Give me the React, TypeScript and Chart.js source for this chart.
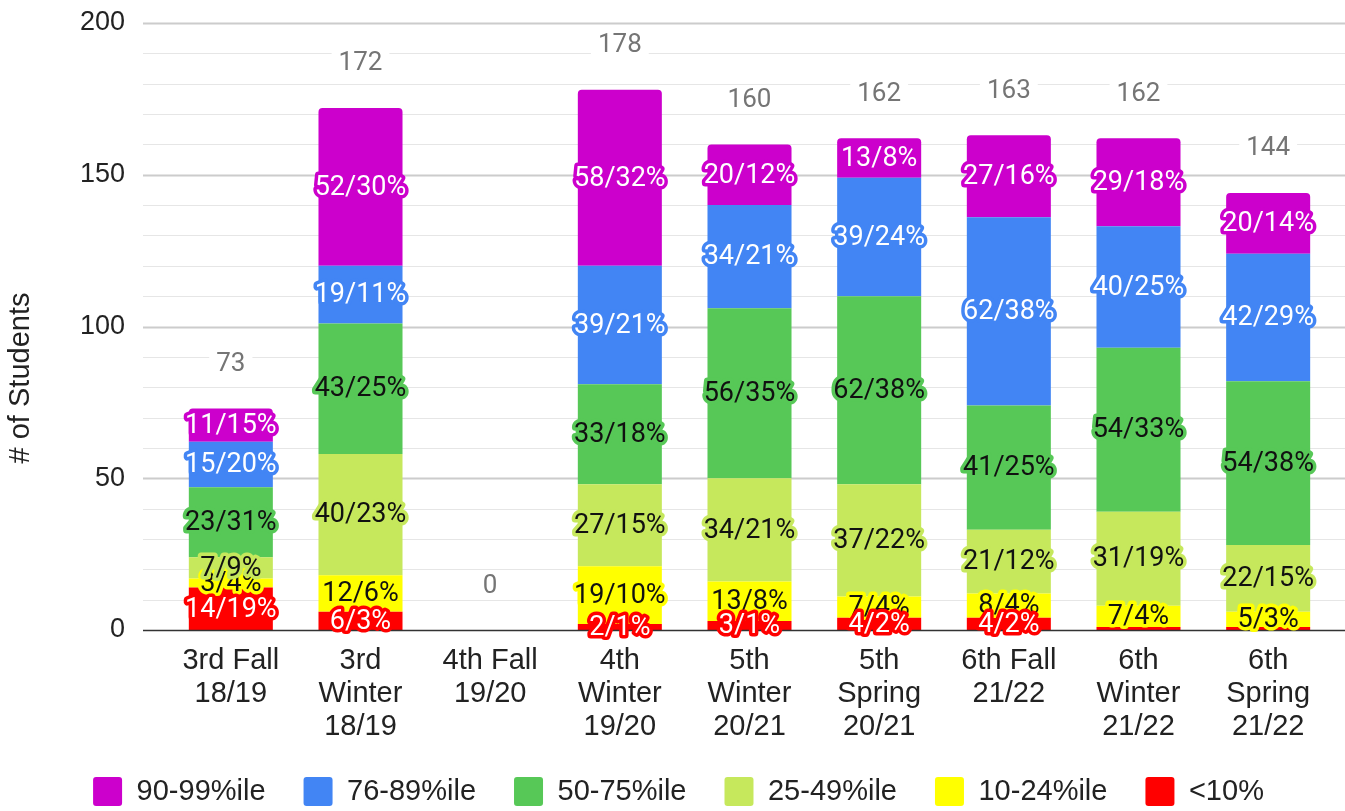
import React, { useEffect, useRef } from "react";
import { Chart, registerables } from "chart.js";

Chart.register(...registerables);

// ---------- data ----------
const CATEGORIES: string[][] = [
  ["3rd Fall", "18/19"],
  ["3rd", "Winter", "18/19"],
  ["4th Fall", "19/20"],
  ["4th", "Winter", "19/20"],
  ["5th", "Winter", "20/21"],
  ["5th", "Spring", "20/21"],
  ["6th Fall", "21/22"],
  ["6th", "Winter", "21/22"],
  ["6th", "Spring", "21/22"],
];

const SERIES_NAMES = ["<10%", "10-24%ile", "25-49%ile", "50-75%ile", "76-89%ile", "90-99%ile"];

const BELOW_10 = [14, 6, 0, 2, 3, 4, 4, 1, 1];
const P10_24 = [3, 12, 0, 19, 13, 7, 8, 7, 5];
const P25_49 = [7, 40, 0, 27, 34, 37, 21, 31, 22];
const P50_75 = [23, 43, 0, 33, 56, 62, 41, 54, 54];
const P76_89 = [15, 19, 0, 39, 34, 39, 62, 40, 42];
const P90_99 = [11, 52, 0, 58, 20, 13, 27, 29, 20];

const PCT_BELOW_10 = [19, 3, 0, 1, 1, 2, 2, 0, 0];
const PCT_10_24 = [4, 6, 0, 10, 8, 4, 4, 4, 3];
const PCT_25_49 = [9, 23, 0, 15, 21, 22, 12, 19, 15];
const PCT_50_75 = [31, 25, 0, 18, 35, 38, 25, 33, 38];
const PCT_76_89 = [20, 11, 0, 21, 21, 24, 38, 25, 29];
const PCT_90_99 = [15, 30, 0, 32, 12, 8, 16, 18, 14];

const TOTALS = [73, 172, 0, 178, 160, 162, 163, 162, 144];

const Y_TITLE = "# of Students";
const Y_MIN = 0;
const Y_MAX = 200;
const Y_MAJOR_STEP = 50;
const Y_MINOR_STEP = 10;

// ---------- styles ----------
const COUNTS = [BELOW_10, P10_24, P25_49, P50_75, P76_89, P90_99];
const PCTS = [PCT_BELOW_10, PCT_10_24, PCT_25_49, PCT_50_75, PCT_76_89, PCT_90_99];
const COLORS = ["#ff0000", "#ffff00", "#c6e85c", "#57c857", "#4285f4", "#cc00cc"];
const TEXT_COLORS = ["#ffffff", "#111111", "#111111", "#111111", "#ffffff", "#ffffff"];
const LABEL_ORDER = [1, 0, 2, 3, 4, 5];
const AXIS_FONT = "Arial, 'Liberation Sans', sans-serif";
const LABEL_FONT = "Roboto, 'Noto Sans', sans-serif";

// target plot area (pixels)
const AREA = { top: 23, bottom: 630, left: 166, right: 1333 };

const overlayPlugin = {
  id: "overlay",
  beforeDatasetsDraw(chart: any) {
    const { ctx, chartArea, scales } = chart;
    const y = scales.y;
    const left = chartArea.left - 23;
    const right = chart.width;
    ctx.save();
    for (let v = Y_MIN + Y_MINOR_STEP; v <= Y_MAX; v += Y_MINOR_STEP) {
      const major = v % Y_MAJOR_STEP === 0;
      const py = Math.round(y.getPixelForValue(v)) + 0.5;
      ctx.beginPath();
      ctx.strokeStyle = major ? "#cccccc" : "#e6e6e6";
      ctx.lineWidth = major ? 2 : 1.2;
      ctx.moveTo(left, py);
      ctx.lineTo(right, py);
      ctx.stroke();
    }
    ctx.restore();
  },
  afterDatasetsDraw(chart: any) {
    const { ctx, chartArea, scales } = chart;
    const y = scales.y;
    const x = scales.x;
    ctx.save();
    // baseline axis
    const py0 = Math.round(y.getPixelForValue(0)) + 0.5;
    ctx.beginPath();
    ctx.strokeStyle = "#333333";
    ctx.lineWidth = 1.5;
    ctx.moveTo(chartArea.left - 23, py0);
    ctx.lineTo(chart.width, py0);
    ctx.stroke();

    // totals
    ctx.font = `26px ${LABEL_FONT}`;
    ctx.textAlign = "center";
    ctx.textBaseline = "middle";
    TOTALS.forEach((t, j) => {
      const cx = x.getPixelForValue(j);
      const cy = y.getPixelForValue(t) - 45;
      const w = ctx.measureText(String(t)).width + 14;
      ctx.fillStyle = "#ffffff";
      ctx.fillRect(cx - w / 2, cy - 14, w, 28);
      ctx.fillStyle = "#757575";
      ctx.fillText(String(t), cx, cy + 1);
    });

    // segment labels
    ctx.font = `27px ${LABEL_FONT}`;
    ctx.lineJoin = "round";
    ctx.lineWidth = 7;
    for (const di of LABEL_ORDER) {
      const meta = chart.getDatasetMeta(di);
      meta.data.forEach((bar: any, j: number) => {
        const v = COUNTS[di][j];
        if (v < 2) return;
        const { x: bx, y: by, base } = bar.getProps(["x", "y", "base"], true);
        const cy = (by + base) / 2;
        const txt = `${v}/${PCTS[di][j]}%`;
        ctx.strokeStyle = COLORS[di];
        ctx.strokeText(txt, bx, cy + 1);
        ctx.fillStyle = TEXT_COLORS[di];
        ctx.fillText(txt, bx, cy + 1);
      });
    }

    // y axis title
    ctx.translate(21, 378);
    ctx.rotate(-Math.PI / 2);
    ctx.font = `29px ${AXIS_FONT}`;
    ctx.fillStyle = "#222222";
    ctx.textAlign = "center";
    ctx.textBaseline = "middle";
    ctx.fillText(Y_TITLE, 0, 0);
    ctx.restore();
  },
};

export default function App() {
  const ref = useRef<HTMLCanvasElement | null>(null);

  useEffect(() => {
    document.body.style.margin = "0";
    if (!ref.current) return;
    const fit = { xHeight: 110, yWidth: 154 };
    const padding = { top: 23, right: 0, bottom: -5, left: 12 };
    const chart = new Chart(ref.current, {
      type: "bar",
      data: {
        labels: CATEGORIES,
        datasets: SERIES_NAMES.map((name, i) => ({
          label: name,
          data: COUNTS[i],
          backgroundColor: COLORS[i],
          borderWidth: 0,
          borderRadius: 4,
          categoryPercentage: 1,
          barPercentage: 0.648,
        })),
      },
      options: {
        animation: false,
        responsive: false,
        devicePixelRatio: 1,
        layout: { padding },
        plugins: {
          tooltip: { enabled: false },
          legend: {
            position: "bottom",
            reverse: true,
            labels: {
              boxWidth: 29,
              boxHeight: 29,
              padding: 38,
              color: "#222222",
              useBorderRadius: true,
              borderRadius: 3,
              font: { family: AXIS_FONT, size: 29 },
            },
          },
        },
        scales: {
          x: {
            stacked: true,
            grid: { display: false, drawTicks: false },
            border: { display: false },
            ticks: {
              color: "#222222",
              padding: 14,
              maxRotation: 0,
              autoSkip: false,
              font: { family: AXIS_FONT, size: 29, lineHeight: 1.14 },
            },
            afterFit: (s: any) => {
              s.height = fit.xHeight;
            },
          },
          y: {
            stacked: true,
            min: Y_MIN,
            max: Y_MAX,
            grid: { display: false, drawTicks: true, tickLength: 41 },
            border: { display: false },
            ticks: {
              stepSize: Y_MAJOR_STEP,
              color: "#222222",
              padding: 0,
              font: { family: AXIS_FONT, size: 27 },
            },
            afterFit: (s: any) => {
              s.width = fit.yWidth;
            },
          },
          yR: {
            position: "right",
            display: true,
            grid: { display: false, drawTicks: false },
            border: { display: false },
            ticks: { display: false, padding: 0 },
            afterFit: (s: any) => {
              s.width = 12;
            },
          },
        },
      },
      plugins: [overlayPlugin],
    } as any);

    // correct the layout so that the plot area sits where the reference has it
    for (let k = 0; k < 2; k++) {
      const ca = chart.chartArea;
      const dTop = AREA.top - ca.top;
      const dBottom = ca.bottom - AREA.bottom;
      const dLeft = AREA.left - ca.left;
      if (Math.abs(dTop) < 0.5 && Math.abs(dBottom) < 0.5 && Math.abs(dLeft) < 0.5) break;
      padding.top += dTop;
      fit.xHeight += dBottom;
      fit.yWidth += dLeft;
      (chart.options as any).layout.padding = { ...padding };
      chart.update();
    }
    return () => chart.destroy();
  }, []);

  return (
    <div style={{ width: 1345, height: 811 }}>
      <canvas ref={ref} width={1345} height={811} style={{ display: "block" }} />
    </div>
  );
}
